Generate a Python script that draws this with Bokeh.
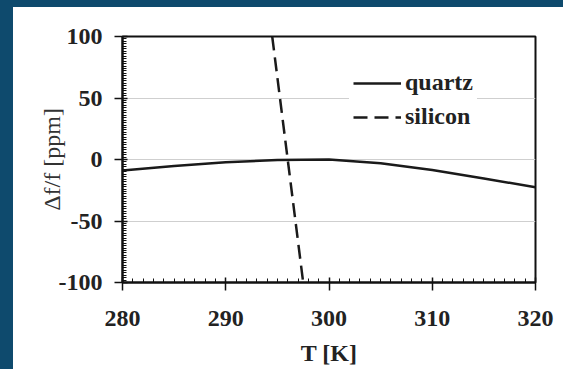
import numpy as np
from bokeh.plotting import figure
from bokeh.layouts import row, column
from bokeh.models import Legend, LegendItem, FixedTicker, Spacer
from bokeh.embed import file_html
from bokeh.resources import INLINE

# ---- data ----
T_quartz = [280, 285, 290, 295, 300, 305, 310, 315, 320]
df_quartz = [-9.0, -5.3, -2.3, -0.4, 0.0, -3.0, -8.5, -15.5, -22.5]
T_silicon = [294.5, 297.5]
df_silicon = [100, -100]
x_ticks = [280, 290, 300, 310, 320]
x_tick_labels = ["280", "290", "300", "310", "320"]
y_ticks = [-100, -50, 0, 50, 100]
y_tick_labels = ["-100", "-50", "0", "50", "100"]
series_names = ["quartz", "silicon"]

SERIF = "Liberation Serif"
BLUE = "#0e4a6d"

p = figure(frame_width=413, frame_height=246, x_range=(280, 320), y_range=(-100, 100),
           output_backend="svg", toolbar_location=None,
           min_border_left=109, min_border_right=28,
           min_border_top=29, min_border_bottom=87)
p.background_fill_color = "white"
p.border_fill_color = "white"
p.outline_line_color = "#111111"
p.outline_line_width = 2
p.outline_line_alpha = 1

p.xgrid.visible = False
p.ygrid.ticker = FixedTicker(ticks=[-50, 0, 50])
p.ygrid.grid_line_color = "#cfcfcf"
p.ygrid.grid_line_width = 1.2

p.xaxis.ticker = FixedTicker(ticks=x_ticks, minor_ticks=list(range(280, 321)))
p.yaxis.ticker = FixedTicker(ticks=y_ticks, minor_ticks=list(range(-100, 101, 2)))
p.xaxis.major_label_overrides = {t: s for t, s in zip(x_ticks, x_tick_labels)}
p.yaxis.major_label_overrides = {t: s for t, s in zip(y_ticks, y_tick_labels)}
for ax in (p.xaxis[0], p.yaxis[0]):
    ax.axis_line_color = "#111111"
    ax.axis_line_width = 2
    ax.major_tick_line_color = "#111111"
    ax.major_tick_line_width = 1.5
    ax.major_tick_in = 5
    ax.major_tick_out = 8
    ax.minor_tick_line_color = "#111111"
    ax.minor_tick_line_width = 1
    ax.minor_tick_in = 4
    ax.minor_tick_out = 0
    ax.major_label_text_font = SERIF
    ax.major_label_text_font_style = "bold"
    ax.major_label_text_font_size = "24px"
    ax.major_label_text_color = "#222222"
    ax.axis_label_text_font = SERIF
    ax.axis_label_text_font_size = "24px"
    ax.axis_label_text_color = "#222222"
p.yaxis.major_label_standoff = 12
p.xaxis.major_label_standoff = 20
p.xaxis.axis_label = "T [K]"
p.xaxis.axis_label_text_font_style = "bold"
p.xaxis.axis_label_standoff = 11
p.yaxis.axis_label = "Δf/f [ppm]"
p.yaxis.axis_label_text_font_style = "normal"
p.yaxis.axis_label_text_color = "#333333"
p.yaxis.axis_label_standoff = -9

r_q = p.line(T_quartz, df_quartz, line_color="#1a1a1a", line_width=2.5)
r_s = p.line(T_silicon, df_silicon, line_color="#1a1a1a", line_width=2.5,
             line_dash="14 7")

legend = Legend(items=[LegendItem(label=series_names[0], renderers=[r_q]),
                       LegendItem(label=series_names[1], renderers=[r_s])],
                location=(227, 148))
legend.label_text_font = SERIF
legend.label_text_font_style = "bold"
legend.label_text_font_size = "24px"
legend.label_text_color = "#222222"
legend.glyph_width = 48
legend.glyph_height = 20
legend.label_height = 20
legend.label_standoff = 4
legend.spacing = 7
legend.padding = 4
legend.margin = 0
legend.border_line_alpha = 0
legend.background_fill_color = "white"
legend.background_fill_alpha = 1
p.add_layout(legend)

# dark blue frame strips (left and top) as layout spacers
left_strip = Spacer(width=13, height=369, styles={"background-color": BLUE})
top_strip = Spacer(width=550, height=7, styles={"background-color": BLUE})
page = row(left_strip, column(top_strip, p, spacing=0), spacing=0)

html = file_html(page, INLINE)
css = "<style>html,body{background:#ffffff;margin:0;padding:0;overflow:hidden;}</style>"
html = html.replace("</head>", css + "</head>", 1)
open("out.html", "w").write(html)
